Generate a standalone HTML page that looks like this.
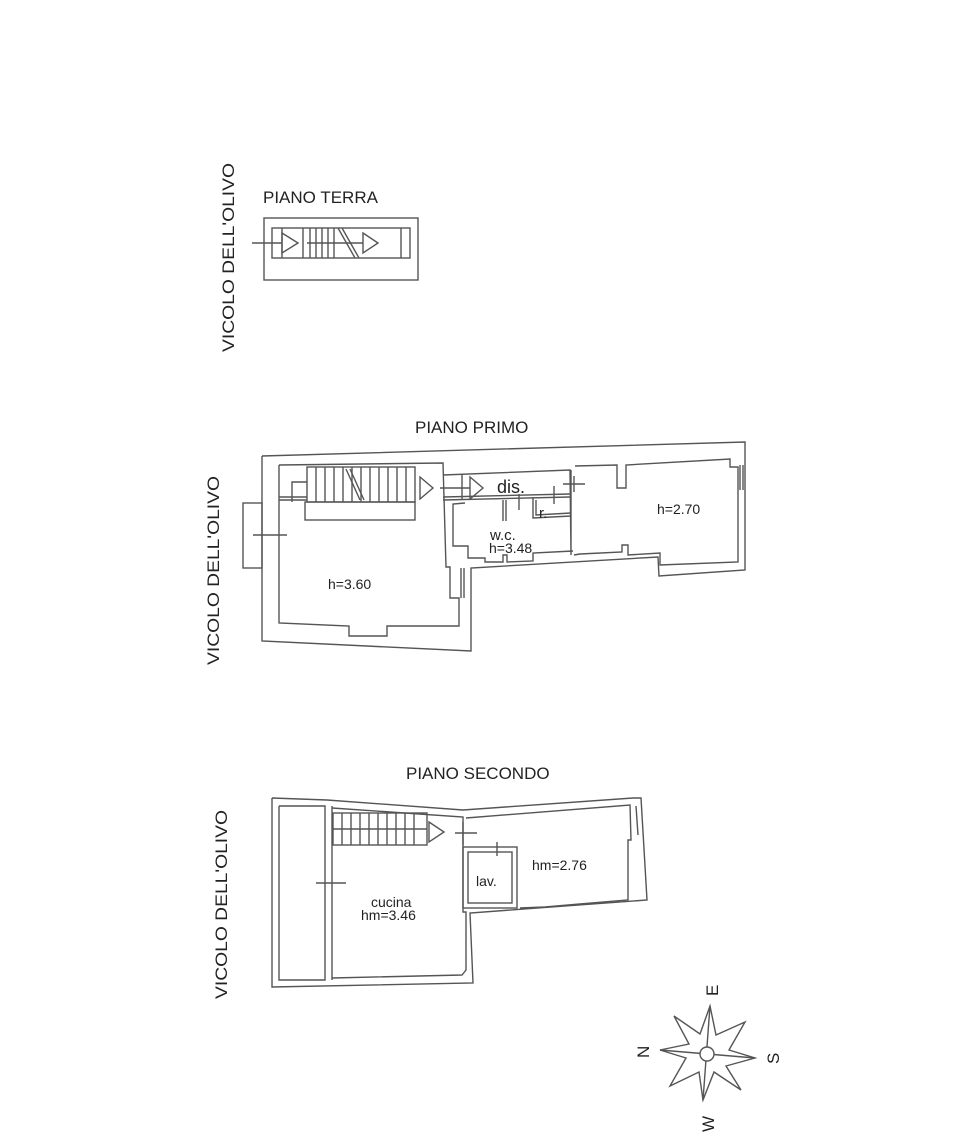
<!DOCTYPE html>
<html><head><meta charset="utf-8"><style>
html,body{margin:0;padding:0;background:#fff;}
svg{display:block;}
text{font-family:"Liberation Sans",sans-serif;fill:#222;}
</style></head><body>
<svg width="954" height="1140" viewBox="0 0 954 1140" xmlns="http://www.w3.org/2000/svg">
<g fill="none" stroke="#555" stroke-width="1.4">
<!-- PIANO TERRA -->
<rect x="264" y="218" width="154" height="62"/>
<rect x="272" y="228" width="138" height="30"/>
<line x1="252" y1="243" x2="282" y2="243"/>
<line x1="282" y1="228" x2="282" y2="258"/>
<polygon points="282,233 298,243 282,253"/>
<line x1="303" y1="228" x2="303" y2="258"/>
<line x1="310" y1="228" x2="310" y2="258"/><line x1="316" y1="228" x2="316" y2="258"/>
<line x1="322" y1="228" x2="322" y2="258"/><line x1="328" y1="228" x2="328" y2="258"/>
<line x1="334" y1="228" x2="334" y2="258"/>
<line x1="338" y1="228" x2="355" y2="258"/><line x1="342" y1="228" x2="359" y2="258"/>
<line x1="307" y1="243" x2="363" y2="243"/>
<polygon points="363,233 378,243 363,253"/>
<line x1="401" y1="228" x2="401" y2="258"/>

<!-- PIANO PRIMO outer -->
<polyline points="262,456 745,442 745,570 659,576 658,557 471,568 471,651 262,641 262,456"/>
<rect x="243" y="503" width="19" height="65"/>
<line x1="253" y1="535" x2="287" y2="535"/>
<polyline points="279,465 443,463 446,567 450,567 450,598 459,598 459,626 387,626 387,636 349,636 349,626 279,623 279,465"/>
<line x1="461" y1="568" x2="461" y2="598"/><line x1="464" y1="568" x2="464" y2="598"/>
<rect x="307" y="467" width="108" height="35"/>
<rect x="305" y="502" width="110" height="18"/>
<polyline points="292,502 292,482 307,482"/>
<line x1="279" y1="497" x2="307" y2="497"/><line x1="279" y1="500" x2="307" y2="500"/>
<g>
<line x1="316" y1="467" x2="316" y2="502"/><line x1="325" y1="467" x2="325" y2="502"/>
<line x1="334" y1="467" x2="334" y2="502"/><line x1="343" y1="467" x2="343" y2="502"/>
<line x1="352" y1="467" x2="352" y2="502"/><line x1="361" y1="467" x2="361" y2="502"/>
<line x1="370" y1="467" x2="370" y2="502"/><line x1="379" y1="467" x2="379" y2="502"/>
<line x1="388" y1="467" x2="388" y2="502"/><line x1="397" y1="467" x2="397" y2="502"/>
<line x1="406" y1="467" x2="406" y2="502"/>
<line x1="346" y1="469" x2="360" y2="500"/><line x1="350" y1="469" x2="364" y2="500"/>
</g>
<polygon points="420,477 433,488 420,499"/>
<line x1="440" y1="488" x2="470" y2="488"/>
<polygon points="470,477 483,488 470,499"/>
<polyline points="443,475 570,470 571,555 571,470"/>
<line x1="443" y1="497" x2="570" y2="494"/>
<line x1="443" y1="500" x2="570" y2="497"/>
<polyline points="462,475 462,500"/>
<polyline points="465,503 453,504 453,546 468,546 468,558 485,558 485,562 503,562 503,555 507,555 507,562 533,561 533,553 573,551"/>
<line x1="503" y1="500" x2="503" y2="521"/><line x1="506" y1="500" x2="506" y2="521"/>
<polyline points="533,497 533,518 571,516"/>
<polyline points="536,500 536,515 571,513"/>
<line x1="519" y1="494" x2="519" y2="510"/>
<line x1="554" y1="486" x2="554" y2="504"/>
<line x1="563" y1="484" x2="585" y2="484"/><line x1="574" y1="476" x2="574" y2="492"/>
<polyline points="575,466 617,465 617,488 626,488 626,465 730,459 730,467 738,467 738,562 660,565 660,553 628,555 628,545 622,545 622,552 580,554 574,555"/>
<line x1="740" y1="465" x2="740" y2="490"/><line x1="743" y1="465" x2="743" y2="490"/>

<!-- PIANO SECONDO -->
<polyline points="272,798 327,800 463,810 633,798 641,798 647,900 470,913 473,983 272,987 272,798"/>
<polyline points="279,806 325,806 325,980 279,980 279,806"/>
<line x1="332" y1="806" x2="332" y2="980"/>
<polyline points="332,808 463,817 463,912 466,912 466,970 462,975 332,978"/>
<line x1="316" y1="883" x2="346" y2="883"/>
<rect x="333" y="813" width="94" height="32"/>
<line x1="333" y1="829" x2="427" y2="829"/>
<line x1="342" y1="813" x2="342" y2="845"/><line x1="351" y1="813" x2="351" y2="845"/>
<line x1="360" y1="813" x2="360" y2="845"/><line x1="369" y1="813" x2="369" y2="845"/>
<line x1="378" y1="813" x2="378" y2="845"/><line x1="387" y1="813" x2="387" y2="845"/>
<line x1="396" y1="813" x2="396" y2="845"/><line x1="405" y1="813" x2="405" y2="845"/>
<line x1="414" y1="813" x2="414" y2="845"/>
<polygon points="429,822 444,832 429,842"/>
<line x1="455" y1="833" x2="477" y2="833"/><line x1="463" y1="822" x2="463" y2="845"/>
<polyline points="466,818 630,805 631,840 628,840 628,900 580,904 545,907 520,908"/>
<rect x="463" y="847" width="54" height="61"/>
<rect x="468" y="852" width="44" height="51"/>
<line x1="497" y1="842" x2="497" y2="856"/>
<line x1="636" y1="806" x2="638" y2="835"/>

<!-- compass -->
<polygon points="710,1006 716,1035 745,1022 729,1050 755,1058 726,1066 741,1090 714,1072 703,1100 699,1072 670,1086 686,1058 660,1050 689,1044 674,1016 700,1034"/>
<line x1="710" y1="1006" x2="703" y2="1100"/>
<line x1="660" y1="1050" x2="755" y2="1058"/>
<circle cx="707" cy="1054" r="7" fill="#fff"/>
</g>
<g font-size="17">
<text x="263" y="203">PIANO TERRA</text>
<text x="415" y="433">PIANO PRIMO</text>
<text x="406" y="779">PIANO SECONDO</text>
<text transform="translate(234,352) rotate(-90)" textLength="189" lengthAdjust="spacingAndGlyphs">VICOLO DELL'OLIVO</text>
<text transform="translate(219,665) rotate(-90)" textLength="189" lengthAdjust="spacingAndGlyphs">VICOLO DELL'OLIVO</text>
<text transform="translate(227,999) rotate(-90)" textLength="189" lengthAdjust="spacingAndGlyphs">VICOLO DELL'OLIVO</text>
</g>
<g font-size="14">
<text x="328" y="589">h=3.60</text>
<text x="490" y="540" font-size="15">w.c.</text>
<text x="489" y="553">h=3.48</text>
<text x="497" y="493" font-size="18">dis.</text>
<text x="539" y="518" font-size="15">r.</text>
<text x="657" y="514">h=2.70</text>
<text x="371" y="907">cucina</text>
<text x="361" y="920">hm=3.46</text>
<text x="476" y="886">lav.</text>
<text x="532" y="870">hm=2.76</text>
</g>
<g font-size="17">
<text transform="translate(718,996) rotate(-90)">E</text>
<text transform="translate(779,1064) rotate(-90)">S</text>
<text transform="translate(714,1132) rotate(-90)">W</text>
<text transform="translate(649,1058) rotate(-90)">N</text>
</g>
</svg>
</body></html>
